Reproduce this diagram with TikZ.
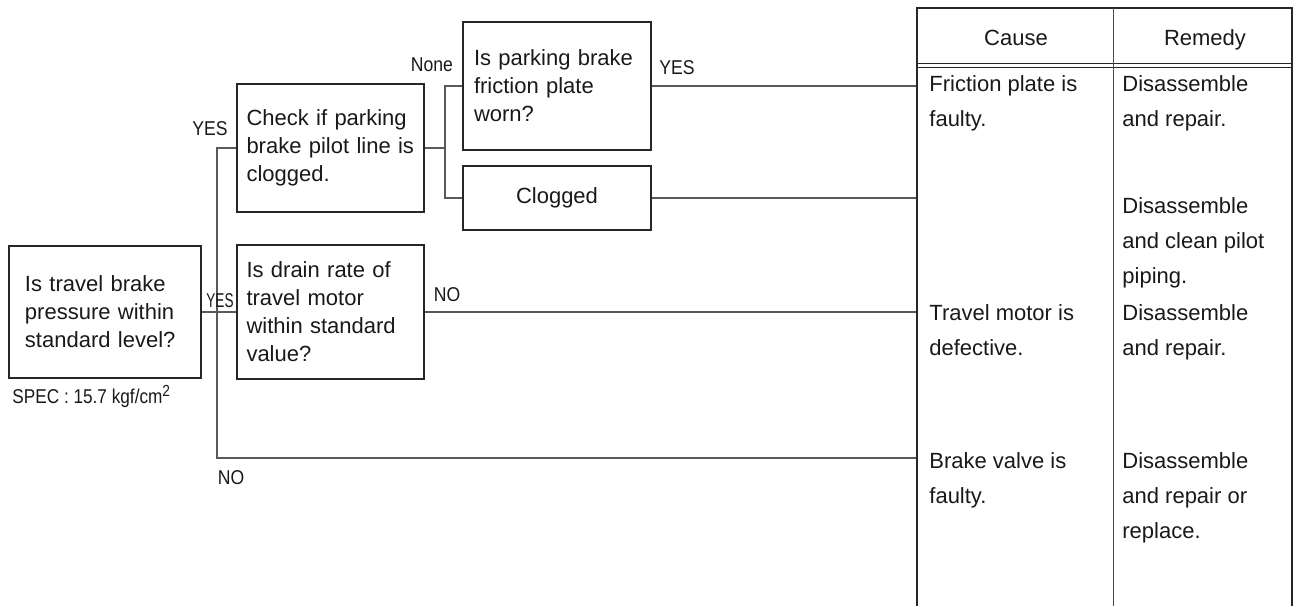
\documentclass[tikz,border=0pt]{standalone}
\usepackage{graphicx}
\usepackage{fontspec}
\setmainfont{Liberation Sans}
\newcommand{\narrow}[2][0.88]{\scalebox{#1}[1]{#2}}
\begin{document}
\begin{tikzpicture}[x=0.5pt,y=-0.5pt,
    box/.style={draw=black!85,line width=0.8pt,text=black!90,
      font=\fontsize{11}{14}\selectfont},
    qbox/.style={box,align=left,text width=#1,inner ysep=0pt,minimum height=64pt},
    wire/.style={draw=black!65,line width=0.6pt},
    lbl/.style={inner sep=0pt,text=black!90,font=\fontsize{10}{12}\selectfont},
    cell/.style={inner sep=0pt,anchor=north west,align=left,text=black!90,
      font=\fontsize{11}{17.5}\selectfont}]
            \useasboundingbox (0,0) rectangle (1300,606);
            % questions
            \node[qbox=80pt,inner xsep=8pt,minimum height=66pt] (pressure) at (105,312)
              {Is travel brake\\pressure within\\standard level?};
            \node[qbox=84pt,inner xsep=4.75pt] (pilot) at (330.5,148)
              {Check if parking\\brake pilot line is\\clogged.};
            \node[qbox=84pt,inner xsep=4.75pt,minimum height=67pt] (drain) at (330.5,312)
              {Is drain rate of\\travel motor\\within standard\\value?};
            \node[qbox=83pt,inner xsep=5.5pt] (plate) at (557,86)
              {Is parking brake\\friction plate\\worn?};
            \node[box,minimum width=94pt,minimum height=32pt,inner sep=0pt] (clogged) at (557,198) {Clogged};
            \node[lbl,anchor=base west] (spec) at (12,403)
              {\narrow[0.86]{SPEC : 15.7 kgf/cm\raisebox{0.6ex}{\fontsize{8}{8}\selectfont 2}}};
            % junctions and table ends
            \coordinate (jtop) at (217,148);
            \coordinate (jbot) at (217,458);
            \coordinate (fork) at (445,148);
            \coordinate (c1) at (917,86);
            \coordinate (c2) at (917,198);
            \coordinate (c3) at (917,312);
            \coordinate (c4) at (917,458);
            % connectors
            \draw[wire] (pressure) -- (drain);
            \draw[wire] (pilot.west) -- (jtop) -- (jbot) -- (c4);
            \draw[wire] (pilot.east) -- (fork);
            \draw[wire] (plate.west) -| (fork) |- (clogged.west);
            \draw[wire] (plate.east) -- (c1);
            \draw[wire] (clogged.east) -- (c2);
            \draw[wire] (drain.east) -- (c3);
            % labels
            \node[lbl] (yes1) at (210,129) {\narrow{YES}};
            \node[lbl] (yes2) at (220,301) {\narrow[0.68]{YES}};
            \node[lbl] (no1) at (447,295) {\narrow{NO}};
            \node[lbl] (no2) at (231,478) {\narrow{NO}};
            \node[lbl] (none) at (432,65) {\narrow{None}};
            \node[lbl] (yes3) at (677,68) {\narrow{YES}};
            % table
            \draw[black!85,line width=1pt] (917,606) -- (917,8) -- (1292,8) -- (1292,606);
            \draw[black!85,line width=0.5pt] (917,63) -- (1292,63) (917,67) -- (1292,67);
            \draw[black!70,line width=0.5pt] (1113,8) -- (1113,606);
            \node[lbl,anchor=base,font=\fontsize{11}{14}\selectfont] (cause) at (1016,45) {Cause};
            \node[lbl,anchor=base,font=\fontsize{11}{14}\selectfont] (remedy) at (1205,45) {Remedy};
            \node[cell] (cause1) at (929,75) {Friction plate is\\faulty.};
            \node[cell] (cause3) at (929,304) {Travel motor is\\defective.};
            \node[cell] (cause4) at (929,452) {Brake valve is\\faulty.};
            \node[cell] (fix1) at (1122,75) {Disassemble\\and repair.};
            \node[cell] (fix2) at (1122,197) {Disassemble\\and clean pilot\\piping.};
            \node[cell] (fix3) at (1122,304) {Disassemble\\and repair.};
            \node[cell] (fix4) at (1122,452) {Disassemble\\and repair or\\replace.};
        \end{tikzpicture}
\end{document}
